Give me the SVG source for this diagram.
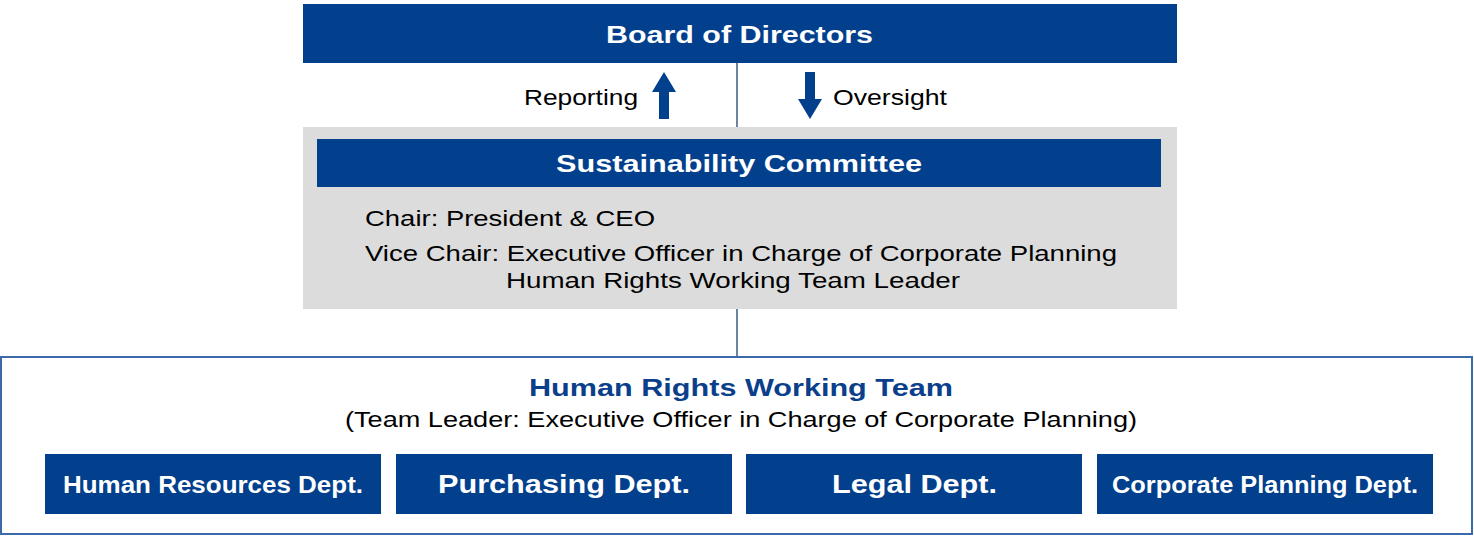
<svg xmlns="http://www.w3.org/2000/svg" width="1474" height="540" viewBox="0 0 1474 540">
<style>
.blue{fill:#023f8c}
.wt{fill:#fff;font-family:"Liberation Sans",Arial,sans-serif;font-weight:bold}
.bk{fill:#000;font-family:"Liberation Sans",Arial,sans-serif;font-size:22px}
.ln{stroke:#3b5a85;stroke-width:1.5;fill:none}
</style>
<rect width="1474" height="540" fill="#fff"/>
<g id="connectors">
<line class="ln" x1="737" y1="63" x2="737" y2="127"/>
<line class="ln" x1="737" y1="309" x2="737" y2="357"/>
<polygon class="blue" points="664,72 676,92 669,92 669,119 659,119 659,92 652,92"/>
<polygon class="blue" points="810,119 822,99 815,99 815,72 805,72 805,99 798,99"/>
<text class="bk" x="524" y="105" textLength="114" lengthAdjust="spacingAndGlyphs">Reporting</text>
<text class="bk" x="833" y="105" textLength="114" lengthAdjust="spacingAndGlyphs">Oversight</text>
</g>
<g id="board">
<rect class="blue" x="303" y="4" width="874" height="59"/>
<text class="wt" x="606" y="43" font-size="24" textLength="267" lengthAdjust="spacingAndGlyphs">Board of Directors</text>
</g>
<g id="committee">
<rect x="303" y="127" width="874" height="182" fill="#dcdcdc"/>
<rect class="blue" x="317" y="139" width="844" height="48"/>
<text class="wt" x="556" y="172" font-size="24" textLength="366" lengthAdjust="spacingAndGlyphs">Sustainability Committee</text>
<text class="bk" x="365" y="226" textLength="290" lengthAdjust="spacingAndGlyphs">Chair: President &amp; CEO</text>
<text class="bk" x="365" y="261" textLength="752" lengthAdjust="spacingAndGlyphs">Vice Chair: Executive Officer in Charge of Corporate Planning</text>
<text class="bk" x="506" y="288" textLength="454" lengthAdjust="spacingAndGlyphs">Human Rights Working Team Leader</text>
</g>
<g id="team">
<rect x="1" y="357" width="1471" height="177" fill="#fff" stroke="#3a6aa8" stroke-width="2"/>
<text x="529" y="396" font-family="Liberation Sans,Arial,sans-serif" font-weight="bold" font-size="24" fill="#0b3f8c" textLength="424" lengthAdjust="spacingAndGlyphs">Human Rights Working Team</text>
<text class="bk" x="345" y="427" textLength="792" lengthAdjust="spacingAndGlyphs">(Team Leader: Executive Officer in Charge of Corporate Planning)</text>
</g>
<g id="hr">
<rect class="blue" x="45" y="454" width="336" height="60"/>
<text class="wt" x="63" y="493" font-size="24" textLength="300" lengthAdjust="spacingAndGlyphs">Human Resources Dept.</text>
</g>
<g id="purchasing">
<rect class="blue" x="396" y="454" width="336" height="60"/>
<text class="wt" x="438" y="493" font-size="25" textLength="252" lengthAdjust="spacingAndGlyphs">Purchasing Dept.</text>
</g>
<g id="legal">
<rect class="blue" x="746" y="454" width="336" height="60"/>
<text class="wt" x="832" y="493" font-size="25" textLength="165" lengthAdjust="spacingAndGlyphs">Legal Dept.</text>
</g>
<g id="planning">
<rect class="blue" x="1097" y="454" width="336" height="60"/>
<text class="wt" x="1112" y="493" font-size="24" textLength="306" lengthAdjust="spacingAndGlyphs">Corporate Planning Dept.</text>
</g>
</svg>
